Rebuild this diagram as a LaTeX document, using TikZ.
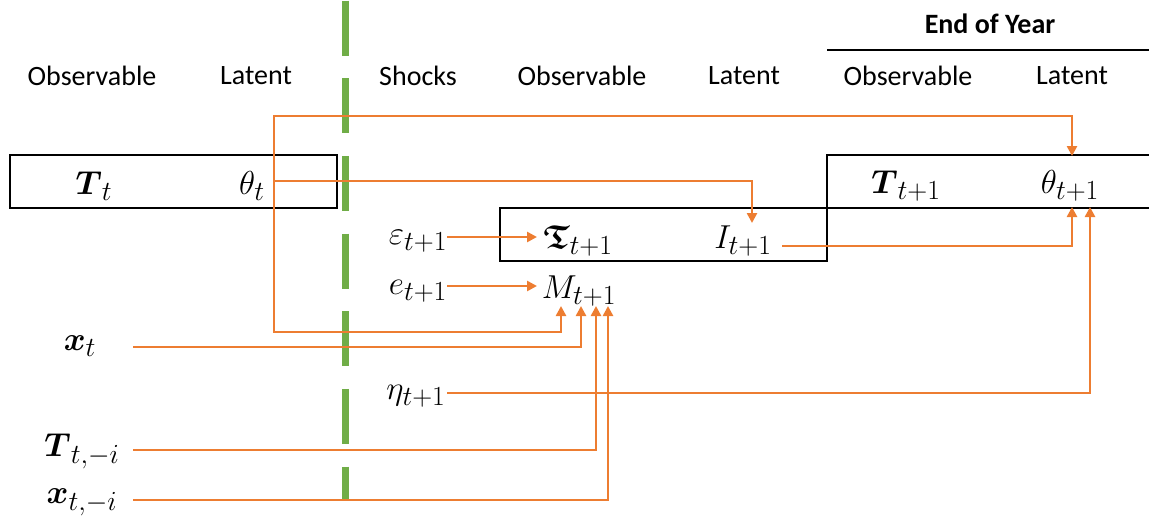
\documentclass[tikz,border=0pt]{standalone}
\usepackage{amsmath,amssymb}
\usepackage[no-math]{fontspec}
\setmainfont{Carlito}
\usetikzlibrary{arrows.meta,calc}
\DeclareMathSizes{25}{25}{20.5}{15}
\definecolor{org}{RGB}{237,125,49}
\definecolor{grn}{RGB}{112,173,71}
\tikzset{
  lbl/.style={font=\fontsize{21}{25}\selectfont, inner sep=0pt},
  mlbl/.style={font=\fontsize{25}{30}\selectfont, inner sep=0pt},
  conn/.style={draw=org, line width=1.9pt},
  arr/.style={conn, -{Triangle[length=7.5pt,width=7.5pt]}},
  boxline/.style={draw=black, line width=1.5pt},
  divider/.style={draw=grn, line width=5.25pt, dash pattern=on 41.25pt off 17pt}
}
\begin{document}
\begin{tikzpicture}[x=0.75pt,y=-0.75pt]
\useasboundingbox (0,0) rectangle (1149,518);

% headers
\node[lbl, font=\fontsize{21}{25}\selectfont\bfseries] (eoy) at (990,24) {End of Year};
\draw[boxline] (827,50) -- (1149,50);
\node[lbl] (h1) at (92,76) {Observable};
\node[lbl] (h2) at (256,76) {Latent};
\node[lbl] (h3) at (418,76) {Shocks};
\node[lbl] (h4) at (582,76) {Observable};
\node[lbl] (h5) at (744,76) {Latent};
\node[lbl] (h6) at (908,76) {Observable};
\node[lbl] (h7) at (1072,76) {Latent};

% boxes
\draw[boxline] (10,155) rectangle (337,208);
\draw[boxline] (500,208) rectangle (827,261);
\draw[boxline] (1149,155) -- (827,155) -- (827,208) -- (1149,208);

% divider
\draw[divider] (345.5,0.5) -- (345.5,499);

% nodes
\node[mlbl] (Tt) at (94,186) {$\boldsymbol{T}_t$};
\node[mlbl] (thetat) at (252,186) {$\theta_t$};
\node[mlbl] (Tt1) at (906,186) {$\boldsymbol{T}_{t+1}$};
\node[mlbl] (thetat1) at (1070,186) {$\theta_{t+1}$};
\node[mlbl] (eps) at (418,241) {$\varepsilon_{t+1}$};
\node[mlbl] (frak) at (578,241) {$\boldsymbol{\mathfrak{T}}_{t+1}$};
\node[mlbl] (It) at (743,241) {$I_{t+1}$};
\node[mlbl] (et) at (418,291) {$e_{t+1}$};
\node[mlbl] (Mt) at (579,291) {$M_{t+1}$};
\node[mlbl] (xt) at (80,346) {$\boldsymbol{x}_t$};
\node[mlbl] (eta) at (416,396) {$\eta_{t+1}$};
\node[mlbl] (Tti) at (82,451) {$\boldsymbol{T}_{t,-i}$};
\node[mlbl] (xti) at (82,502) {$\boldsymbol{x}_{t,-i}$};

% junction next to theta_t
\coordinate (J) at ($(thetat)+(22,-5)$);

% connectors
\draw[arr] (J) -- ($(J)+(0,-65)$) -| ($(thetat1)+(2,-30)$);
\draw[arr] (J) -| ($(It)+(9,-18)$);
\draw[arr] (J) -- ($(J)+(0,151)$) -| ($(Mt)+(-18,15)$);
\draw[arr] ($(xt)+(53,1)$) -| ($(Mt)+(2,15)$);
\draw[arr] ($(Tti)+(51,-1)$) -| ($(Mt)+(17,15)$);
\draw[arr] ($(xti)+(51,-2)$) -| ($(Mt)+(29,15)$);
\draw[arr] ($(eta)+(31,-3)$) -| ($(thetat1)+(20,21)$);
\draw[arr] ($(It)+(39,5)$) -| ($(thetat1)+(2,21)$);
\draw[arr] ($(eps)+(29,-4)$) -- ($(frak)+(-41,-4)$);
\draw[arr] ($(et)+(29,-5)$) -- ($(Mt)+(-42,-5)$);
\end{tikzpicture}
\end{document}
